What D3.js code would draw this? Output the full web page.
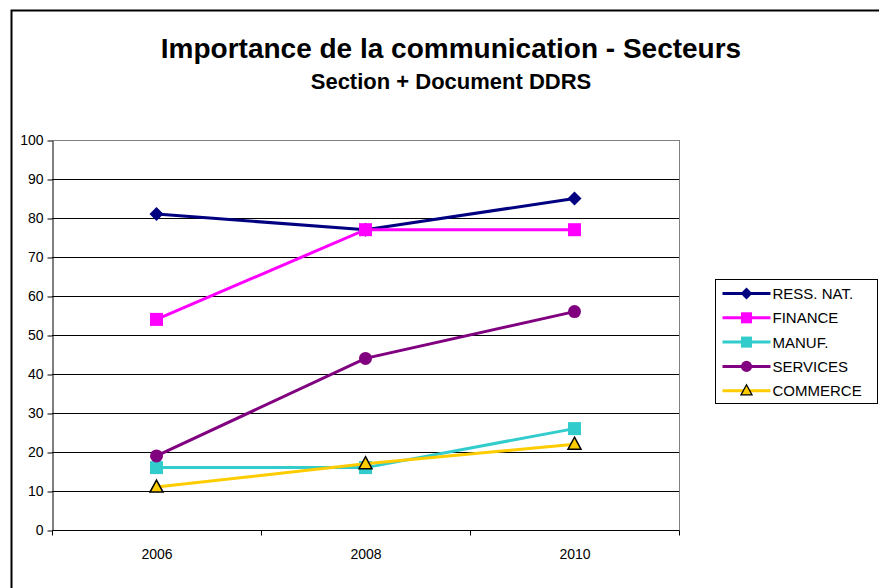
<!DOCTYPE html>
<html>
<head>
<meta charset="utf-8">
<script src="https://cdn.jsdelivr.net/npm/d3@7"></script>
<style>
  body { margin: 0; background: #fff; }
  svg text { font-family: "Liberation Sans", Arial, sans-serif; }
</style>
</head>
<body>
<div id="chart"></div>
<script>
// data
const years = ["2006", "2008", "2010"];
const yTicks = [0, 10, 20, 30, 40, 50, 60, 70, 80, 90, 100];
const seriesNames = ["RESS. NAT.", "FINANCE", "MANUF.", "SERVICES", "COMMERCE"];
const ressNat = [81, 77, 85];
const finance = [54, 77, 77];
const manuf = [16, 16, 26];
const services = [19, 44, 56];
const commerce = [11, 17, 22];

const colors = ["#000080", "#ff00ff", "#33cccc", "#800080", "#ffcc00"];
const shapes = ["diamond", "square", "square", "circle", "triangle"];
const allValues = [ressNat, finance, manuf, services, commerce];

const series = seriesNames.map((name, i) => ({
  name: name, color: colors[i], shape: shapes[i],
  values: allValues[i].map((v, j) => ({ year: years[j], value: v }))
}));

width = 879;
height = 588;
const plot = { left: 52, right: 679, top: 140, bottom: 530 };
const font = "'Liberation Sans', Arial, sans-serif";

const svg = d3.select("#chart")
  .append("svg")
  .attr("width", width)
  .attr("height", height);

// outer chart border
svg.append("rect")
  .attr("x", 11.5).attr("y", 10.5)
  .attr("width", width).attr("height", height)
  .attr("fill", "none").attr("stroke", "#000").attr("stroke-width", 2);

svg.append("text")
  .attr("x", 451).attr("y", 58)
  .attr("text-anchor", "middle")
  .style("font-size", "28px").style("font-weight", "bold")
  .text("Importance de la communication - Secteurs");

svg.append("text")
  .attr("x", 451).attr("y", 89)
  .attr("text-anchor", "middle")
  .style("font-size", "22px").style("font-weight", "bold")
  .text("Section + Document DDRS");

const x = d3.scaleBand().domain(years).range([plot.left, plot.right]);
const y = d3.scaleLinear().domain([0, 100]).range([plot.bottom, plot.top]);

// gridlines
svg.append("g")
  .selectAll("line")
  .data(yTicks.filter(d => d > 0))
  .join("line")
    .attr("x1", plot.left).attr("x2", plot.right)
    .attr("y1", d => Math.round(y(d)) + 0.5).attr("y2", d => Math.round(y(d)) + 0.5)
    .attr("stroke", d => d === 100 ? "#808080" : "#000")
    .attr("stroke-width", 1);

// right border of plot area
svg.append("line")
  .attr("x1", plot.right + 0.5).attr("x2", plot.right + 0.5)
  .attr("y1", plot.top).attr("y2", plot.bottom)
  .attr("stroke", "#808080");

// y axis
const yAxis = svg.append("g")
  .attr("transform", `translate(${plot.left + 0.5},0.5)`)
  .call(d3.axisLeft(y).tickValues(yTicks).tickSize(5).tickSizeOuter(0).tickPadding(4))
  .attr("font-family", font)
  .attr("font-size", 14);
yAxis.select(".domain").attr("stroke", "#000");
yAxis.selectAll(".tick line").attr("stroke", "#000");
yAxis.selectAll("text").attr("fill", "#000");

// x axis, ticks between categories
const xAxis = svg.append("g")
  .attr("transform", `translate(0.5,${plot.bottom + 0.5})`);
xAxis.append("line")
  .attr("x1", plot.left).attr("x2", plot.right)
  .attr("stroke", "#000");
xAxis.selectAll(".sep")
  .data(years.map(d => x(d)).concat([plot.right]))
  .join("line")
    .attr("class", "sep")
    .attr("x1", d => Math.round(d)).attr("x2", d => Math.round(d))
    .attr("y1", 0).attr("y2", 5)
    .attr("stroke", "#000");
xAxis.selectAll("text")
  .data(years)
  .join("text")
    .attr("x", d => x(d) + x.bandwidth() / 2)
    .attr("y", 28)
    .attr("text-anchor", "middle")
    .style("font-size", "14px")
    .text(d => d);

// markers
function marker(g, shape, color) {
  if (shape === "diamond") {
    g.append("path").attr("d", "M0,-7L7,0L0,7L-7,0Z").attr("fill", color);
  } else if (shape === "square") {
    g.append("rect").attr("x", -6.5).attr("y", -6.5).attr("width", 13).attr("height", 13).attr("fill", color);
  } else if (shape === "circle") {
    g.append("circle").attr("r", 6.5).attr("fill", color);
  } else {
    g.append("path").attr("d", "M0,-7L6.5,5L-6.5,5Z")
      .attr("fill", color).attr("stroke", "#000").attr("stroke-width", 1.5);
  }
}

const line = d3.line()
  .x(d => x(d.year) + x.bandwidth() / 2)
  .y(d => y(d.value));

series.forEach(s => {
  svg.append("path")
    .datum(s.values)
    .attr("fill", "none")
    .attr("stroke", s.color)
    .attr("stroke-width", 3)
    .attr("d", line);
  s.values.forEach(d => {
    const g = svg.append("g")
      .attr("transform", `translate(${x(d.year) + x.bandwidth() / 2},${y(d.value)})`);
    marker(g, s.shape, s.color);
  });
});

// legend
const legend = svg.append("g").attr("transform", "translate(715.5,279.5)");
legend.append("rect")
  .attr("width", 162).attr("height", 124)
  .attr("fill", "#fff").attr("stroke", "#000");

const item = legend.selectAll(".item")
  .data(series)
  .join("g")
    .attr("class", "item")
    .attr("transform", (d, i) => `translate(0,${14 + i * 24.3})`);
item.append("line")
  .attr("x1", 7).attr("x2", 55)
  .attr("stroke", d => d.color).attr("stroke-width", 3);
item.each(function(d) {
  const g = d3.select(this).append("g").attr("transform", "translate(31,0) scale(0.85)");
  marker(g, d.shape, d.color);
});
item.append("text")
  .attr("x", 57).attr("y", 5.5)
  .style("font-size", "15px")
  .text(d => d.name);
</script>
</body>
</html>
